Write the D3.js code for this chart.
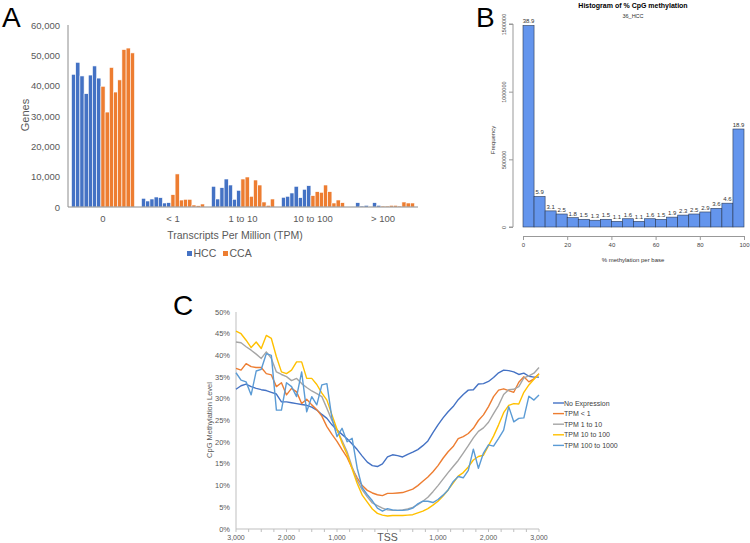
<!DOCTYPE html>
<html>
<head>
<meta charset="utf-8">
<script src="https://cdn.jsdelivr.net/npm/d3@7"></script>
<style>
  body { margin: 0; background: #fff; }
  svg { font-family: Arial, "Liberation Sans", sans-serif; }
</style>
</head>
<body>
<svg id="fig" width="750" height="543"></svg>
<script>
// ---------- Panel A data ----------
var tpmGroups = ["0", "< 1", "1 to 10", "10 to 100", "> 100"];
var hccGenes = [
    [43750, 47700, 43200, 37350, 43500, 46500, 42500],
    [2870, 1980, 2640, 3300, 3070, 1320, 1420],
    [6820, 2640, 6370, 9230, 7250, 2540, 5500],
    [3200, 3530, 4620, 6820, 3070, 5840, 7020],
    [100, 1420, 330, 560, 100, 1420, 560]
];
var ccaGenes = [
    [39800, 31300, 46000, 37900, 41900, 51900, 52400, 50800],
    [4060, 10900, 2300, 2540, 2540, 660, 430, 990],
    [9230, 9890, 3530, 8900, 7250, 1650, 560, 2640],
    [3730, 5050, 4850, 7250, 5050, 1320, 2310, 1420],
    [330, 330, 560, 560, 330, 1650, 1320, 1320]
];
var genesTicks = [0, 10000, 20000, 30000, 40000, 50000, 60000];

// ---------- Panel B data ----------
var binStart = [0, 5, 10, 15, 20, 25, 30, 35, 40, 45, 50, 55, 60, 65, 70, 75, 80, 85, 90, 95];
var binFreq = [1489000, 226000, 119000, 96000, 69000, 57000, 50000, 57000, 42000, 61000,
    42000, 61000, 57000, 73000, 88000, 96000, 111000, 138000, 176000, 724000];
var binPct = ["38.9", "5.9", "3.1", "2.5", "1.8", "1.5", "1.3", "1.5", "1.1", "1.6",
    "1.1", "1.6", "1.5", "1.9", "2.3", "2.5", "2.9", "3.6", "4.6", "18.9"];
var freqTicks = [0, 500000, 1000000, 1500000];
var pctTicks = [0, 20, 40, 60, 80, 100];

// ---------- Panel C data ----------
var tssPos = d3.range(-3000, 3001, 100);
var noExpr = [32.2, 33.0, 33.4, 32.8, 32.4, 32.1, 31.9, 31.5, 31.1, 29.3,
    29.3, 29.1, 28.9, 28.7, 28.5, 28.1, 27.4, 26.4, 25.5, 24.0,
    22.8, 21.8, 20.8, 19.6, 18.3, 16.8, 15.4, 14.6, 14.4, 15.0,
    16.6, 17.1, 16.9, 16.6, 17.2, 17.7, 18.3, 19.2, 20.3, 22.2,
    24.0, 25.6, 27.0, 28.2, 29.8, 31.0, 32.0, 32.1, 33.4, 33.5,
    34.0, 34.9, 36.0, 36.6, 36.5, 36.2, 35.6, 35.9, 35.2, 35.0, 35.0];
var tpmLt1 = [37.0, 36.6, 38.1, 37.4, 37.2, 37.2, 35.8, 35.5, 32.8, 33.7,
    30.9, 32.4, 31.6, 28.9, 29.9, 28.6, 27.5, 26.0, 23.6, 21.8,
    20.2, 18.3, 16.5, 14.0, 11.8, 10.0, 8.9, 8.3, 7.9, 7.7,
    8.2, 8.2, 8.3, 8.4, 8.8, 9.2, 10.0, 11.0, 12.0, 13.2,
    14.6, 16.3, 17.8, 19.0, 20.8, 21.3, 22.0, 23.2, 25.0, 26.3,
    28.2, 30.5, 32.0, 32.3, 31.9, 31.5, 33.8, 35.1, 33.9, 34.6, 35.8];
var tpm1to10 = [43.1, 42.9, 42.0, 41.2, 40.3, 39.3, 40.8, 39.3, 36.2, 35.6,
    35.1, 34.2, 34.7, 33.5, 32.6, 31.8, 31.2, 30.5, 27.8, 25.0,
    22.8, 20.4, 17.8, 14.3, 11.2, 9.0, 7.4, 6.0, 5.4, 4.8,
    4.4, 4.3, 4.3, 4.4, 4.6, 5.0, 5.6, 6.4, 7.3, 8.6,
    10.0, 11.5, 13.0, 14.4, 15.8, 17.5, 19.2, 21.0, 22.5, 23.3,
    24.6, 26.6, 28.5, 31.0, 32.1, 32.2, 32.8, 34.8, 35.3, 35.9, 37.2];
var tpm10to100 = [45.6, 45.0, 43.5, 41.8, 43.1, 41.6, 44.6, 43.9, 39.7, 36.2,
    35.8, 36.6, 38.5, 38.5, 34.7, 34.7, 33.3, 31.3, 29.7, 26.3,
    23.0, 19.8, 17.2, 13.8, 10.5, 7.8, 6.2, 4.6, 3.6, 3.2,
    3.0, 3.1, 3.1, 3.1, 3.2, 3.3, 3.7, 4.1, 4.7, 5.5,
    6.4, 7.6, 9.0, 10.6, 12.2, 13.0, 14.3, 15.9, 16.7, 17.0,
    19.2, 21.4, 24.0, 26.8, 28.5, 28.9, 28.8, 31.5, 33.2, 34.5, 35.7];
var tpm100to1000 = [36.0, 34.3, 33.9, 30.9, 36.4, 36.8, 40.4, 40.0, 27.4, 27.4,
    33.7, 32.8, 30.5, 36.2, 27.0, 30.5, 28.6, 33.2, 33.5, 25.5,
    21.3, 23.2, 20.1, 20.9, 14.0, 9.5, 7.9, 6.5, 4.8, 4.1,
    4.7, 4.4, 4.3, 4.3, 4.4, 4.8, 5.8, 6.4, 6.4, 6.1,
    6.8, 7.8, 9.0, 10.9, 12.1, 11.8, 13.5, 18.4, 14.0, 17.5,
    19.4, 19.1, 20.9, 22.8, 28.2, 24.7, 25.5, 25.6, 30.6, 29.7, 30.9];
var seriesNames = ["No Expression", "TPM < 1", "TPM 1 to 10", "TPM 10 to 100", "TPM 100 to 1000"];
var methTicks = [0, 5, 10, 15, 20, 25, 30, 35, 40, 45, 50];
var tssTicks = [-3000, -2000, -1000, 0, 1000, 2000, 3000];

var svg = d3.select("#fig");
var axisGray = "#8c8c8c", textGray = "#595959";

// =============== Panel A ===============
var a = svg.append("g");
a.append("text").attr("x", 2).attr("y", 27).attr("font-size", 28).text("A");

var xA = d3.scaleBand().domain(tpmGroups).range([68, 418]).paddingInner(0.1).paddingOuter(0.05);
var yA = d3.scaleLinear().domain([0, 60000]).range([207, 25]);

a.selectAll(".ytick").data(genesTicks).enter().append("text")
    .attr("x", 60).attr("y", d => yA(d) + 3.5)
    .attr("text-anchor", "end").attr("font-size", 9.5).attr("fill", textGray)
    .text(d => d3.format(",")(d));

tpmGroups.forEach(function (g, gi) {
    var vals = hccGenes[gi].map(v => ({ v: v, s: "HCC" }))
        .concat(ccaGenes[gi].map(v => ({ v: v, s: "CCA" })));
    var xb = d3.scaleBand().domain(d3.range(vals.length)).range([xA(g), xA(g) + xA.bandwidth()]);
    a.selectAll(".bar" + gi).data(vals).enter().append("rect")
        .attr("x", (d, i) => xb(i))
        .attr("width", xb.bandwidth())
        .attr("y", d => yA(d.v))
        .attr("height", d => yA(0) - yA(d.v))
        .attr("fill", d => d.s == "HCC" ? "#4472c4" : "#ed7d31")
        .attr("stroke", "#fff").attr("stroke-width", 0.6);
});

a.append("line").attr("x1", 68).attr("x2", 68).attr("y1", yA(60000)).attr("y2", yA(0))
    .attr("stroke", axisGray);
a.append("line").attr("x1", 68).attr("x2", 418).attr("y1", yA(0)).attr("y2", yA(0))
    .attr("stroke", axisGray);

a.selectAll(".xcat").data(tpmGroups).enter().append("text")
    .attr("x", d => xA(d) + xA.bandwidth() / 2).attr("y", 222)
    .attr("text-anchor", "middle").attr("font-size", 9.5).attr("fill", textGray)
    .text(d => d);

a.append("text").attr("x", 235).attr("y", 239).attr("text-anchor", "middle")
    .attr("font-size", 10.5).attr("fill", textGray).text("Transcripts Per Million (TPM)");
a.append("text").attr("transform", "translate(29,115) rotate(-90)")
    .attr("text-anchor", "middle").attr("font-size", 11).attr("fill", textGray).text("Genes");

var legA = [["HCC", "#4472c4", 187], ["CCA", "#ed7d31", 223]];
legA.forEach(function (l) {
    a.append("rect").attr("x", l[2]).attr("y", 251).attr("width", 5).attr("height", 5).attr("fill", l[1]);
    a.append("text").attr("x", l[2] + 6.5).attr("y", 257).attr("font-size", 10.5)
        .attr("fill", textGray).text(l[0]);
});

// =============== Panel B ===============
var b = svg.append("g");
b.append("text").attr("x", 476).attr("y", 27).attr("font-size", 28).text("B");
b.append("text").attr("x", 633).attr("y", 8).attr("text-anchor", "middle")
    .attr("font-size", 7).attr("font-weight", "bold").text("Histogram of % CpG methylation");
b.append("text").attr("x", 633).attr("y", 18).attr("text-anchor", "middle")
    .attr("font-size", 5.5).attr("fill", "#333").text("36_HCC");

var xB = d3.scaleLinear().domain([0, 100]).range([523, 744]);
var yB = d3.scaleLinear().domain([0, 1500000]).range([227, 24]);

b.selectAll(".hbar").data(binStart).enter().append("rect")
    .attr("x", d => xB(d)).attr("width", d => xB(d + 5) - xB(d))
    .attr("y", (d, i) => yB(binFreq[i])).attr("height", (d, i) => yB(0) - yB(binFreq[i]))
    .attr("fill", "#6495ed").attr("stroke", "#2b3a55").attr("stroke-width", 0.6);

b.selectAll(".hlab").data(binStart).enter().append("text")
    .attr("x", d => xB(d + 2.5)).attr("y", (d, i) => yB(binFreq[i]) - 2)
    .attr("text-anchor", "middle").attr("font-size", 6).attr("fill", "#333")
    .text((d, i) => binPct[i]);

var yAxisB = d3.axisLeft(yB).tickValues(freqTicks).tickSize(4).tickFormat(d3.format("d"));
var gyB = b.append("g").attr("transform", "translate(513,0)").call(yAxisB);
gyB.selectAll("path, line").attr("stroke", "#999");
gyB.selectAll(".tick text").attr("font-size", 5.5).attr("fill", "#444")
    .attr("text-anchor", "middle").attr("dy", "0.35em")
    .attr("x", -9).attr("y", 0).attr("transform", "rotate(-90,-9,0)");
gyB.select(".domain").attr("d", "M-4," + yB(1500000) + "H0V" + yB(0) + "H-4");

var xAxisB = d3.axisBottom(xB).tickValues(pctTicks).tickSize(4);
var gxB = b.append("g").attr("transform", "translate(0,236)").call(xAxisB);
gxB.selectAll("path, line").attr("stroke", "#999");
gxB.selectAll("text").attr("font-size", 6).attr("fill", "#444");

b.append("text").attr("transform", "translate(495,140) rotate(-90)").attr("text-anchor", "middle")
    .attr("font-size", 6).attr("fill", "#333").text("Frequency");
b.append("text").attr("x", 633).attr("y", 262).attr("text-anchor", "middle")
    .attr("font-size", 6).attr("fill", "#333").text("% methylation per base");

// =============== Panel C ===============
var c = svg.append("g");
c.append("text").attr("x", 173).attr("y", 315).attr("font-size", 28).text("C");

var xC = d3.scaleLinear().domain([-3000, 3000]).range([236, 539]);
var yC = d3.scaleLinear().domain([0, 50]).range([529, 312]);

c.selectAll(".ctick").data(methTicks).enter().append("text")
    .attr("x", 230).attr("y", d => yC(d) + 2.5)
    .attr("text-anchor", "end").attr("font-size", 7.5).attr("fill", textGray)
    .text(d => d + "%");

c.append("line").attr("x1", 236).attr("x2", 236).attr("y1", yC(50)).attr("y2", yC(0))
    .attr("stroke", "#bfbfbf");
c.append("line").attr("x1", 236).attr("x2", 539).attr("y1", yC(0)).attr("y2", yC(0))
    .attr("stroke", "#bfbfbf");
c.selectAll(".mtick").data(d3.range(-3000, 3001, 250)).enter().append("line")
    .attr("x1", d => xC(d)).attr("x2", d => xC(d))
    .attr("y1", yC(0)).attr("y2", yC(0) + 3).attr("stroke", "#bfbfbf");

c.selectAll(".xlab").data(tssTicks).enter().append("text")
    .attr("x", d => xC(d)).attr("y", d => d == 0 ? 541 : 540)
    .attr("text-anchor", "middle").attr("font-size", d => d == 0 ? 10.5 : 7)
    .attr("fill", textGray)
    .text(d => d == 0 ? "TSS" : d3.format(",")(Math.abs(d)));

c.append("text").attr("transform", "translate(212,420) rotate(-90)").attr("text-anchor", "middle")
    .attr("font-size", 7.5).attr("fill", textGray).text("CpG Methylation Level");

var seriesC = [noExpr, tpmLt1, tpm1to10, tpm10to100, tpm100to1000];
var colorsC = ["#4472c4", "#ed7d31", "#a5a5a5", "#ffc000", "#5b9bd5"];
var line = d3.line().x((d, i) => xC(tssPos[i])).y(d => yC(d));

seriesC.forEach(function (s, si) {
    c.append("path").datum(s).attr("d", line)
        .attr("fill", "none").attr("stroke", colorsC[si]).attr("stroke-width", 1.4)
        .attr("stroke-linejoin", "round");
});

seriesNames.forEach(function (n, i) {
    var y = 403 + i * 10.6;
    c.append("line").attr("x1", 553).attr("x2", 564).attr("y1", y).attr("y2", y)
        .attr("stroke", colorsC[i]).attr("stroke-width", 1.4);
    c.append("text").attr("x", 564).attr("y", y + 2.5).attr("font-size", 7)
        .attr("fill", "#404040").text(n);
});
</script>
</body>
</html>
